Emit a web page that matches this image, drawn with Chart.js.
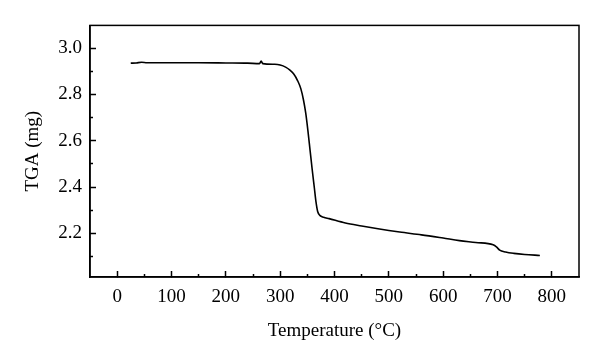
<!DOCTYPE html>
<html>
<head>
<meta charset="utf-8">
<script src="https://cdn.jsdelivr.net/npm/chart.js@4"></script>
<style>
  html, body { margin: 0; padding: 0; background: #fff; }
  #wrap { width: 600px; height: 364px; }
</style>
</head>
<body>
<div id="wrap"><canvas id="tgaChart" width="600" height="364"></canvas></div>
<script>
// Data
const temperature = [25, 35, 45, 55, 100, 150, 200, 240, 262, 265, 268, 290, 300, 310, 318, 325, 332, 338, 343, 347,
  351, 355, 359, 363, 366, 369, 373, 380, 390, 420, 450, 480, 520, 560, 600, 630, 660, 692, 698, 704, 715, 730, 750, 778];
const tgaMass = [2.935, 2.936, 2.939, 2.937, 2.937, 2.937, 2.936, 2.935, 2.933, 2.944, 2.933, 2.930, 2.927, 2.918, 2.905, 2.888, 2.860, 2.825, 2.775, 2.720,
  2.645, 2.560, 2.475, 2.395, 2.335, 2.295, 2.278, 2.270, 2.264, 2.245, 2.232, 2.220, 2.206, 2.194, 2.180, 2.169, 2.161, 2.151, 2.142, 2.128, 2.120, 2.114, 2.109, 2.105];

// Tick values
const xMajorTicks = [0, 100, 200, 300, 400, 500, 600, 700, 800];
const xMinorTicks = [50, 150, 250, 350, 450, 550, 650, 750];
const yMajorTicks = [2.2, 2.4, 2.6, 2.8, 3.0];
const yMinorTicks = [2.1, 2.3, 2.5, 2.7, 2.9];

const font = { family: 'Liberation Serif', size: 19 };
const xRange = { min: -50, max: 850 };
const yRange = { min: 2.012, max: 3.098 };

// draws the box round the plot
const frame = {
  id: 'frame',
  afterDraw(chart) {
    const a = chart.chartArea;
    const c = chart.ctx;
    c.save();
    c.strokeStyle = '#000';
    c.lineWidth = 1.5;
    c.strokeRect(a.left, a.top, a.right - a.left, a.bottom - a.top);
    c.restore();
  }
};

const points = temperature.map((t, i) => ({ x: t, y: tgaMass[i] }));

const config = {
  type: 'line',
  data: {
    datasets: [{
      data: points,
      borderColor: '#000',
      borderWidth: 1.6,
      pointRadius: 0,
      cubicInterpolationMode: 'monotone',
      fill: false
    }]
  },
  options: {
    responsive: false,
    animation: false,
    layout: { padding: { top: 21, right: 21, left: 0, bottom: 0 } },
    plugins: { legend: { display: false }, tooltip: { enabled: false } },
    scales: {
      x: {
        type: 'linear', position: 'bottom', weight: 1,
        min: xRange.min, max: xRange.max,
        afterBuildTicks: s => { s.ticks = xMajorTicks.map(v => ({ value: v })); },
        afterFit: s => { s.height = 87; },
        grid: { drawOnChartArea: false, tickLength: -6, tickColor: '#000', tickWidth: 1.5 },
        border: { color: '#000', width: 1.5 },
        ticks: { color: '#000', font: font, padding: 15, maxRotation: 0 },
        title: { display: true, text: 'Temperature (°C)', color: '#000', font: font, padding: { top: 0, bottom: 22 } }
      },
      xMinor: {
        type: 'linear', position: 'bottom', weight: 0,
        min: xRange.min, max: xRange.max,
        afterBuildTicks: s => { s.ticks = xMinorTicks.map(v => ({ value: v })); },
        afterFit: s => { s.height = 0; },
        grid: { drawOnChartArea: false, tickLength: -3, tickColor: '#000', tickWidth: 1.5 },
        border: { display: false },
        ticks: { display: false }
      },
      y: {
        type: 'linear', position: 'left', weight: 1,
        min: yRange.min, max: yRange.max,
        afterBuildTicks: s => { s.ticks = yMajorTicks.map(v => ({ value: v })); },
        afterFit: s => { s.width = 90; },
        grid: { drawOnChartArea: false, tickLength: -6, tickColor: '#000', tickWidth: 1.5 },
        border: { color: '#000', width: 1.5 },
        ticks: { color: '#000', font: font, padding: 14, callback: v => v.toFixed(1) },
        title: { display: true, text: 'TGA (mg)', color: '#000', font: font, padding: { top: 22, bottom: 0 } }
      },
      yMinor: {
        type: 'linear', position: 'left', weight: 0,
        min: yRange.min, max: yRange.max,
        afterBuildTicks: s => { s.ticks = yMinorTicks.map(v => ({ value: v })); },
        afterFit: s => { s.width = 0; },
        grid: { drawOnChartArea: false, tickLength: -3, tickColor: '#000', tickWidth: 1.5 },
        border: { display: false },
        ticks: { display: false }
      }
    }
  },
  plugins: [frame]
};

const ctx = document.getElementById('tgaChart').getContext('2d');
const tgaChart = new Chart(ctx, config);
</script>
</body>
</html>
